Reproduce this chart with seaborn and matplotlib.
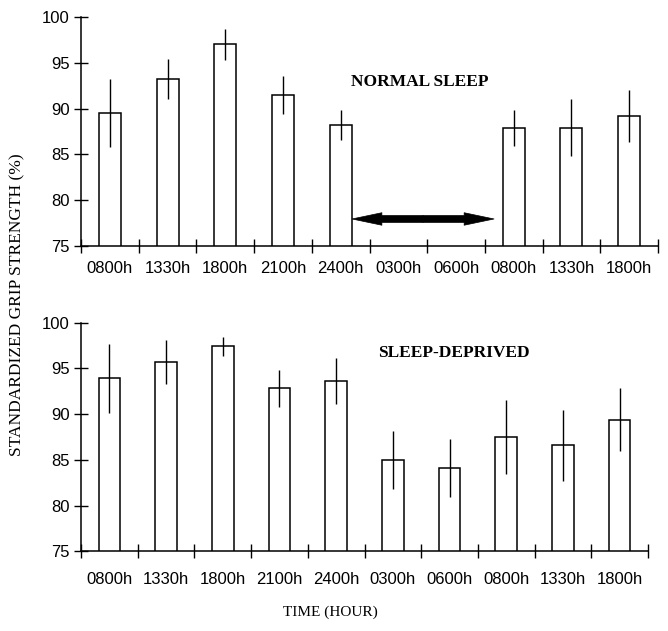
import numpy as np
import pandas as pd
import matplotlib
matplotlib.use("Agg")
import matplotlib.pyplot as plt
import seaborn as sns

# ---- data ----
time_labels = ["0800h", "1330h", "1800h", "2100h", "2400h",
               "0300h", "0600h", "0800h", "1330h", "1800h"]
normal_mean = [89.5, 93.2, 97.0, 91.5, 88.2, np.nan, np.nan, 87.9, 87.9, 89.2]
normal_err = [3.7, 2.2, 1.7, 2.05, 1.6, np.nan, np.nan, 2.0, 3.1, 2.8]
deprived_mean = [93.9, 95.7, 97.4, 92.8, 93.6, 85.0, 84.1, 87.5, 86.6, 89.4]
deprived_err = [3.8, 2.45, 1.05, 2.05, 2.5, 3.15, 3.2, 4.05, 3.9, 3.4]
y_ticks = [75, 80, 85, 90, 95, 100]
sleep_arrow = (4.197, 6.658, 77.95)   # start slot, end slot, level (%)

sns.set_theme(style="ticks")
plt.rcParams["font.family"] = ["Liberation Sans", "DejaVu Sans"]
plt.rcParams["text.color"] = "black"
plt.rcParams["xtick.labelcolor"] = "black"
plt.rcParams["ytick.labelcolor"] = "black"

fig = plt.figure(figsize=(6.68, 6.31), dpi=100)
ax1 = fig.add_axes([81/668, 1-246/631, 577/668, 229/631])
ax2 = fig.add_axes([81/668, 1-551.3/631, 567/668, 228.7/631])

slots = list(range(len(time_labels)))

def draw(ax, means, errs, title, tx, ty, xpad):
    df = pd.DataFrame({"slot": slots, "value": means})
    sns.barplot(data=df, x="slot", y="value", order=slots, width=0.38,
                color="white", edgecolor="black", linewidth=1.1,
                errorbar=None, ax=ax)
    ax.errorbar(slots, means, yerr=errs, fmt="none", ecolor="black",
                elinewidth=1.0, capsize=0)
    ax.set_ylim(y_ticks[0], y_ticks[-1])
    ax.set_xlim(-0.5, len(slots) - 0.5)
    ax.set_yticks(y_ticks)
    ax.set_xticks(slots)
    ax.set_xticklabels(time_labels)
    ax.set_xticks(np.arange(-0.5, len(slots), 1.0), minor=True)
    ax.tick_params(axis="x", which="major", length=0, pad=xpad, labelsize=12)
    ax.tick_params(axis="x", which="minor", direction="inout", length=10,
                   width=1.0, color="black")
    ax.tick_params(axis="y", direction="inout", length=10, width=1.0,
                   color="black", labelsize=12, pad=3)
    ax.set_xlabel("")
    ax.set_ylabel("")
    for s in ["top", "right"]:
        ax.spines[s].set_visible(False)
    for s in ["left", "bottom"]:
        ax.spines[s].set_color("black")
        ax.spines[s].set_linewidth(1.1)
    ax.text(tx, ty, title, ha="center", va="center", fontsize=12.5,
            fontweight="bold", family=["Liberation Serif"], color="black")

draw(ax1, normal_mean, normal_err, "NORMAL SLEEP", 5.37, 92.9, 11)
draw(ax2, deprived_mean, deprived_err, "SLEEP-DEPRIVED", 6.07, 96.7, 15)

# double-headed arrow marking the sleep period (two filled halves)
mid = (sleep_arrow[0] + sleep_arrow[1]) / 2
style = "simple,head_length=2.15,head_width=0.9,tail_width=0.5"
for end in (sleep_arrow[0], sleep_arrow[1]):
    ax1.annotate("", xy=(end, sleep_arrow[2]), xytext=(mid, sleep_arrow[2]),
                 arrowprops=dict(arrowstyle=style, mutation_scale=10,
                                 facecolor="black", edgecolor="black", lw=0.5,
                                 shrinkA=0, shrinkB=0))

fig.text(17/668, 1-305/631, "STANDARDIZED GRIP STRENGTH (%)", rotation=90,
         ha="center", va="center", fontsize=12.5, family=["Liberation Serif"])
fig.text(330/668, 1-612/631, "TIME (HOUR)", ha="center", va="center",
         fontsize=11, family=["Liberation Serif"])

fig.savefig("out.png", dpi=100)
